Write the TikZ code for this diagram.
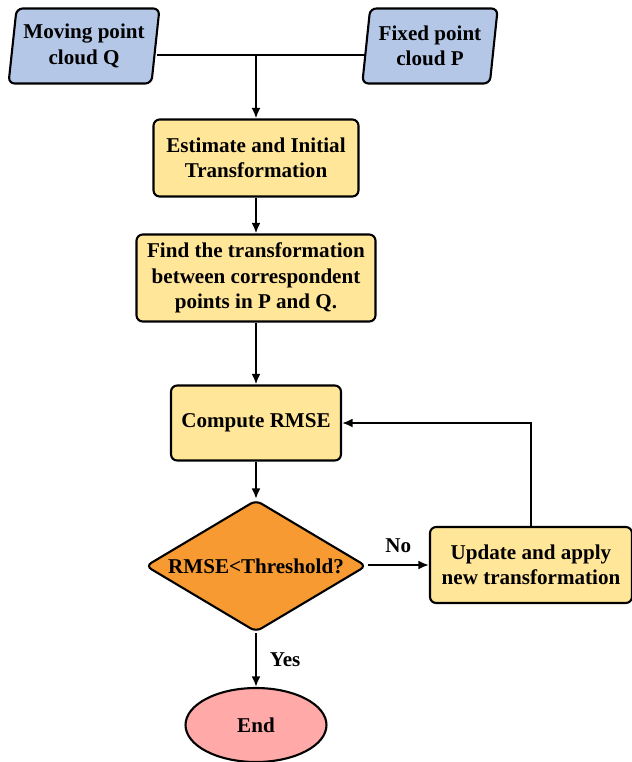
\documentclass[tikz,border=0pt]{standalone}
\usepackage{fontspec}
\setmainfont{Liberation Serif}
\usetikzlibrary{arrows.meta, positioning, shapes.geometric}

\definecolor{cloudblue}{HTML}{B4C7E7}
\definecolor{stepyellow}{HTML}{FFE699}
\definecolor{testorange}{HTML}{F79A32}
\definecolor{endpink}{HTML}{FFA9A9}

\begin{document}
\begin{tikzpicture}[x=0.02cm, y=-0.02cm,
        every node/.style={font=\bfseries\fontsize{12}{14.5}\selectfont, align=center},
        shapeline/.style={draw, line width=1.2pt, rounded corners=3.5pt},
        inputcloud/.style={shapeline, trapezium, trapezium left angle=81, trapezium right angle=99,
            trapezium stretches=true, fill=cloudblue, minimum height=1.5cm, inner sep=1pt},
        procbox/.style={shapeline, rectangle, fill=stepyellow},
        decision/.style={shapeline, diamond, fill=testorange, aspect=1.67, inner sep=0pt},
        terminal/.style={draw, line width=1.2pt, ellipse, fill=endpink},
        flow/.style={line width=1.1pt, -{Latex[length=6pt, width=5pt]}}
    ]
        \useasboundingbox (0,0) rectangle (632,762);

        % Input point clouds
        \node [inputcloud, minimum width=3.04cm] (moving) at (84,46) {Moving point\\cloud Q};
        \node [inputcloud, minimum width=2.72cm] (fixed) at (430,46) {Fixed point\\cloud P};
        \coordinate (merge) at (256,55);

        % Main steps
        \node [procbox, minimum width=4.1cm, minimum height=1.54cm] (estimate) at (256,158) {Estimate and Initial\\Transformation};
        \node [procbox, minimum width=4.78cm, minimum height=1.74cm] (find) at (256,278) {Find the transformation\\between correspondent\\points in P and Q.};
        \node [procbox, minimum width=3.4cm, minimum height=1.5cm] (rmse) at (256,423) {Compute RMSE};
        \node [decision, minimum width=4.42cm, minimum height=2.64cm] (check) at (256,566) {RMSE<Threshold?};
        \node [procbox, minimum width=4.04cm, minimum height=1.52cm] (update) at (531,565) {Update and apply\\new transformation};
        \node [terminal, minimum width=2.82cm, minimum height=1.48cm] (finish) at (256,725) {End};

        % Connectors
        \draw [line width=1.1pt] (moving.east |- merge) -- (fixed.west |- merge);
        \draw [flow] (merge) -- (estimate);
        \draw [flow] (estimate) -- (find);
        \draw [flow] (find) -- (rmse);
        \draw [flow] (rmse) -- (check);
        \draw [flow] (check) -- node [right=4pt] {Yes} (finish);
        \draw [flow] (check.east |- update) -- node [above=3pt] {No} (update);
        \draw [flow] (update.north) |- (rmse.east);
    \end{tikzpicture}
\end{document}
